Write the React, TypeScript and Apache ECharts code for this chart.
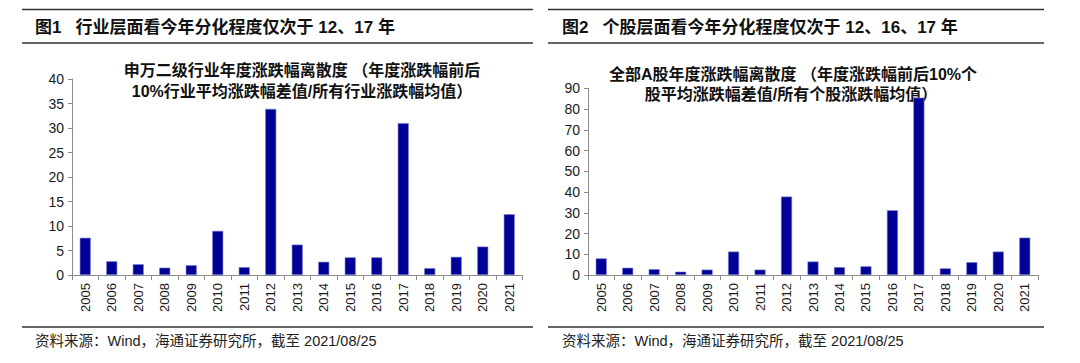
import React, { useEffect, useRef } from "react";
import * as echarts from "echarts";

const years = ["2005","2006","2007","2008","2009","2010","2011","2012","2013","2014","2015","2016","2017","2018","2019","2020","2021"];
const industryValues = [7.6, 2.8, 2.2, 1.5, 2.0, 9.0, 1.6, 33.9, 6.2, 2.7, 3.6, 3.6, 31.0, 1.4, 3.7, 5.8, 12.4];
const stockValues = [8.0, 3.5, 2.8, 1.6, 2.6, 11.3, 2.6, 37.8, 6.5, 3.8, 4.2, 31.2, 85.5, 3.2, 6.2, 11.3, 18.0];

const header1 = "图1   行业层面看今年分化程度仅次于 12、17 年";
const header2 = "图2   个股层面看今年分化程度仅次于 12、16、17 年";
const title1 = ["申万二级行业年度涨跌幅离散度 （年度涨跌幅前后", "10%行业平均涨跌幅差值/所有行业涨跌幅均值）"];
const title2 = ["全部A股年度涨跌幅离散度 （年度涨跌幅前后10%个", "股平均涨跌幅差值/所有个股涨跌幅均值）"];
const source = "资料来源：Wind，海通证券研究所，截至 2021/08/25";

const FONT = '"Liberation Sans", Arial, "Noto Sans CJK SC", sans-serif';
const BAR = "#000096";
const AXIS = "#8c8c8c";

export default function App() {
  const ref = useRef<HTMLDivElement>(null);
  useEffect(() => {
    document.body.style.margin = "0";
    const chart = echarts.init(ref.current!, null, { renderer: "svg" });
    const xAxisCommon = (gridIndex: number) => ({
      type: "category",
      gridIndex,
      data: years,
      axisLine: { lineStyle: { color: AXIS } },
      axisTick: { show: true, length: 5, lineStyle: { color: AXIS } },
      axisLabel: { rotate: 90, fontSize: 13, color: "#1a1a1a", fontFamily: FONT, margin: 8 },
    });
    const yAxisCommon = (gridIndex: number, max: number, interval: number) => ({
      type: "value",
      gridIndex,
      min: 0,
      max,
      interval,
      axisLine: { show: true, lineStyle: { color: AXIS } },
      axisTick: { show: true, length: 4, lineStyle: { color: AXIS } },
      splitLine: { show: false },
      axisLabel: { fontSize: 14, color: "#1a1a1a", fontFamily: FONT, margin: 8 },
    });
    const lineStyle = { stroke: "#333", lineWidth: 1.5 };
    const hdrFont = { fontSize: 17, fontWeight: "bold", fill: "#111", fontFamily: FONT };
    const ttlFont = { fontSize: 16, fontWeight: "bold", fill: "#111", fontFamily: FONT, align: "center", verticalAlign: "middle" };
    const srcFont = { fontSize: 14.5, fill: "#222", fontFamily: FONT, verticalAlign: "middle" };
    chart.setOption({
      animation: false,
      backgroundColor: "#fff",
      grid: [
        { left: 72, right: 557.5, top: 79, bottom: 88, containLabel: false },
        { left: 588, right: 42, top: 88.3, bottom: 88, containLabel: false },
      ],
      xAxis: [xAxisCommon(0), xAxisCommon(1)],
      yAxis: [yAxisCommon(0, 40, 5), yAxisCommon(1, 90, 10)],
      series: [
        {
          type: "bar", xAxisIndex: 0, yAxisIndex: 0, data: industryValues, barWidth: 11,
          itemStyle: { color: BAR, borderColor: "#7a7ad0", borderWidth: 0.6 },
        },
        {
          type: "bar", xAxisIndex: 1, yAxisIndex: 1, data: stockValues, barWidth: 11,
          itemStyle: { color: BAR, borderColor: "#7a7ad0", borderWidth: 0.6 },
        },
      ],
      graphic: [
        { type: "line", shape: { x1: 22, y1: 9.5, x2: 533, y2: 9.5 }, style: lineStyle },
        { type: "line", shape: { x1: 22, y1: 43, x2: 533, y2: 43 }, style: lineStyle },
        { type: "line", shape: { x1: 548, y1: 9.5, x2: 1044, y2: 9.5 }, style: lineStyle },
        { type: "line", shape: { x1: 548, y1: 43, x2: 1044, y2: 43 }, style: lineStyle },
        { type: "line", shape: { x1: 22, y1: 327, x2: 533, y2: 327 }, style: lineStyle },
        { type: "line", shape: { x1: 548, y1: 327, x2: 1044, y2: 327 }, style: lineStyle },
        { type: "text", x: 35, y: 27, style: { text: header1, ...hdrFont, verticalAlign: "middle" } },
        { type: "text", x: 562, y: 27, style: { text: header2, ...hdrFont, verticalAlign: "middle" } },
        { type: "text", x: 302, y: 70, style: { text: title1[0], ...ttlFont } },
        { type: "text", x: 302, y: 91.5, style: { text: title1[1], ...ttlFont } },
        { type: "text", x: 793, y: 74, style: { text: title2[0], ...ttlFont } },
        { type: "text", x: 791, y: 94, style: { text: title2[1], ...ttlFont } },
        { type: "text", x: 35, y: 341, style: { text: source, ...srcFont } },
        { type: "text", x: 562, y: 341, style: { text: source, ...srcFont } },
      ],
    });
    return () => chart.dispose();
  }, []);
  return <div ref={ref} style={{ width: 1080, height: 363 }} />;
}
